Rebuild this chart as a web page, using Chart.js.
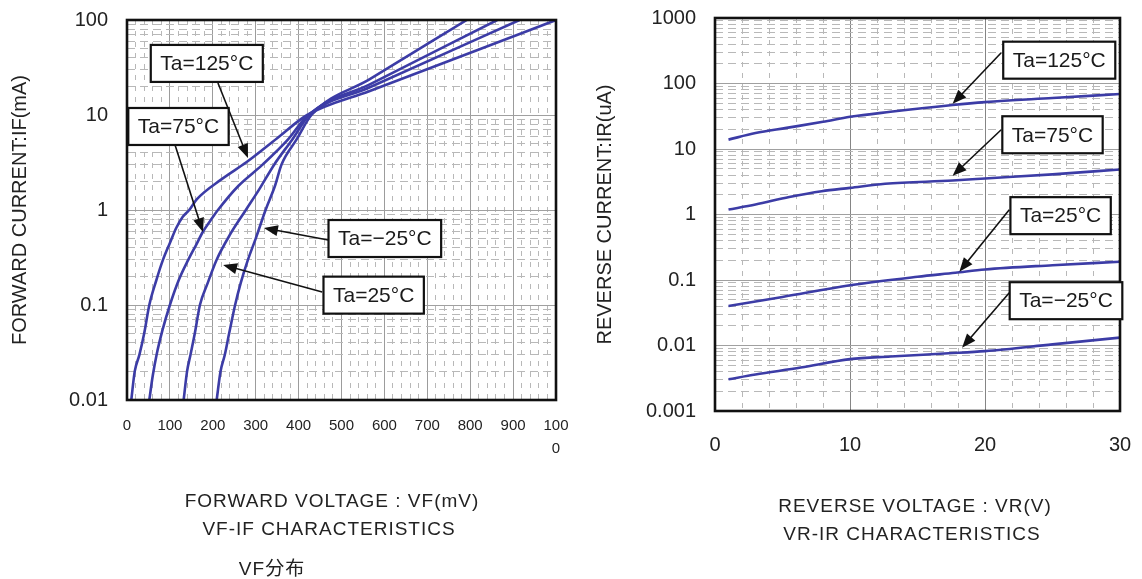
<!DOCTYPE html>
<html>
<head>
<meta charset="utf-8">
<script src="https://cdn.jsdelivr.net/npm/chart.js@4.4.0/dist/chart.umd.min.js"></script>
<style>
html,body{margin:0;padding:0;background:#fff;}
#wrap{position:relative;width:1142px;height:579px;overflow:hidden;background:#fff;}
canvas{position:absolute;top:0;}
.t{position:absolute;font-family:"Liberation Sans","Noto Sans CJK JP",sans-serif;color:#222;white-space:nowrap;transform:translate(-50%,-50%);font-size:19px;letter-spacing:1px;line-height:1;}
</style>
</head>
<body>
<div id="wrap">
  <canvas id="c1" width="580" height="579" style="left:0"></canvas>
  <canvas id="c2" width="552" height="579" style="left:590px"></canvas>
  <div class="t" style="left:332px;top:500px">FORWARD VOLTAGE : VF(mV)</div>
  <div class="t" style="left:329px;top:528px">VF-IF CHARACTERISTICS</div>
  <div class="t" style="left:272px;top:568px">VF分布</div>
  <div class="t" style="left:915px;top:505px">REVERSE VOLTAGE : VR(V)</div>
  <div class="t" style="left:912px;top:533px">VR-IR CHARACTERISTICS</div>
</div>
<script>
// ---------- VF-IF data (mV, mA) ----------
const vf125 = [10, 18, 29, 40, 52, 68, 84, 100, 115, 130, 145, 163, 220, 279, 350, 420, 566, 750, 1000];
const if125 = [0.01, 0.02, 0.03, 0.05, 0.1, 0.18, 0.3, 0.45, 0.65, 0.85, 1.0, 1.3, 2.1, 3.2, 5.7, 10, 17.9, 37, 100];
const vf75 = [52, 60, 69, 83, 100, 120, 143, 160, 177, 195, 212, 260, 316, 375, 422, 566, 915];
const if75 = [0.01, 0.018, 0.03, 0.055, 0.1, 0.18, 0.3, 0.42, 0.59, 0.78, 1.0, 1.8, 3.0, 5.5, 10, 19.6, 100];
const vf25 = [132, 140, 148, 158, 170, 188, 209, 240, 277, 310, 343, 385, 425, 566, 863];
const if25 = [0.01, 0.02, 0.03, 0.05, 0.1, 0.17, 0.3, 0.55, 1.0, 1.7, 3.0, 5.5, 10, 21, 100];
const vfM25 = [209, 218, 228, 238, 252, 265, 282, 300, 323, 345, 360, 395, 430, 566, 792];
const ifM25 = [0.01, 0.02, 0.03, 0.05, 0.1, 0.17, 0.3, 0.5, 1.0, 1.8, 3.0, 5.5, 10, 23.8, 100];

const vfTickValues = [0, 100, 200, 300, 400, 500, 600, 700, 800, 900, 1000];
const vfTickLabels = ['0', '100', '200', '300', '400', '500', '600', '700', '800', '900', ['100', '0']];
const ifTickValues = [0.01, 0.1, 1, 10, 100];
const ifTickLabels = ['0.01', '0.1', '1', '10', '100'];

// ---------- VR-IR data (V, uA) ----------
const vr125 = [1, 3, 5.3, 8, 10, 13, 17.6, 20, 25, 30];
const ir125 = [13.9, 17.5, 21, 26, 31, 37, 47, 52, 60, 69];
const vr75 = [1, 3, 5.5, 7.9, 10, 12.6, 17.6, 20, 25, 30];
const ir75 = [1.19, 1.42, 1.85, 2.27, 2.55, 2.94, 3.3, 3.55, 4.1, 4.86];
const vr25 = [1, 5, 10, 15, 17.8, 20, 25, 30];
const ir25 = [0.04, 0.055, 0.083, 0.112, 0.129, 0.145, 0.168, 0.19];
const vrM25 = [1, 3, 6.35, 10, 13, 17.3, 20, 25, 30];
const irM25 = [0.00305, 0.0036, 0.0046, 0.0062, 0.0068, 0.0076, 0.0082, 0.0104, 0.0132];

const vrTickValues = [0, 10, 20, 30];
const vrTickLabels = ['0', '10', '20', '30'];
const irTickValues = [0.001, 0.01, 0.1, 1, 10, 100, 1000];
const irTickLabels = ['0.001', '0.01', '0.1', '1', '10', '100', '1000'];

// ---------- helpers ----------
const FONT = '"Liberation Sans", "Noto Sans CJK JP", sans-serif';
Chart.defaults.font.family = FONT;
Chart.defaults.color = '#222';
const LINE = '#3c3ca6';

const zip = (xs, ys) => xs.map((x, i) => ({x: x, y: ys[i]}));
const near = (a, b) => Math.abs(a - b) <= Math.abs(b) * 1e-6 + 1e-12;
const isDecade = v => { const l = Math.log10(v); return Math.abs(l - Math.round(l)) < 1e-6; };
function logTicks(e0, e1) {
  const t = [];
  for (let e = e0; e < e1; e++) for (let m = 1; m < 10; m++) t.push({value: Number((m * Math.pow(10, e)).toPrecision(10))});
  t.push({value: Number(Math.pow(10, e1).toPrecision(10))});
  return t;
}
function linTicks(a, b, s) { const t = []; for (let v = a; v <= b + 1e-9; v += s) t.push({value: Number(v.toFixed(6))}); return t; }
function labelFrom(values, labels) {
  return v => { const i = values.findIndex(t => near(v, t)); return i >= 0 ? labels[i] : ''; };
}

const frame = {
  id: 'frame',
  afterDatasetsDraw(chart) {
    const {ctx, chartArea: a} = chart;
    ctx.save();
    ctx.strokeStyle = '#111';
    ctx.lineWidth = 2.6;
    ctx.strokeRect(a.left, a.top, a.right - a.left, a.bottom - a.top);
    ctx.restore();
  }
};

const callouts = {
  id: 'callouts',
  afterDraw(chart, args, opts) {
    const xs = chart.scales.x, ys = chart.scales.y, ctx = chart.ctx;
    ctx.save();
    ctx.font = opts.font;
    ctx.fillStyle = '#111';
    ctx.strokeStyle = '#111';
    for (const it of opts.items) {
      const ax = xs.getPixelForValue(it.from[0]), ay = ys.getPixelForValue(it.from[1]);
      const tx = xs.getPixelForValue(it.tip[0]), ty = ys.getPixelForValue(it.tip[1]);
      const ang = Math.atan2(ty - ay, tx - ax), c = Math.cos(ang), s = Math.sin(ang);
      const hl = 14, hw = 5.5;
      ctx.lineWidth = 1.6;
      ctx.beginPath(); ctx.moveTo(ax, ay); ctx.lineTo(tx - hl * 0.7 * c, ty - hl * 0.7 * s); ctx.stroke();
      ctx.beginPath();
      ctx.moveTo(tx, ty);
      ctx.lineTo(tx - hl * c + hw * s, ty - hl * s - hw * c);
      ctx.lineTo(tx - hl * c - hw * s, ty - hl * s + hw * c);
      ctx.closePath(); ctx.fill();
    }
    for (const it of opts.items) {
      const cx = xs.getPixelForValue(it.box[0]), cy = ys.getPixelForValue(it.box[1]);
      const w = ctx.measureText(it.text).width + opts.padX * 2, h = opts.boxH;
      ctx.fillStyle = '#fff';
      ctx.fillRect(cx - w / 2, cy - h / 2, w, h);
      ctx.lineWidth = 2.2;
      ctx.strokeRect(cx - w / 2, cy - h / 2, w, h);
      ctx.fillStyle = '#1a1a1a';
      ctx.textAlign = 'center';
      ctx.textBaseline = 'middle';
      ctx.fillText(it.text, cx, cy + 1);
    }
    ctx.restore();
  }
};

function ds(xs, ys) {
  return {data: zip(xs, ys), showLine: true, pointRadius: 0, borderColor: LINE, borderWidth: 2.6,
          cubicInterpolationMode: 'monotone', fill: false};
}

const CLEAR = 'rgba(0,0,0,0)';

function makeChart(id, cfg) {
  return new Chart(document.getElementById(id), {
    type: 'scatter',
    data: {datasets: cfg.datasets},
    plugins: [frame, callouts],
    options: {
      responsive: false,
      animation: false,
      events: [],
      layout: {padding: cfg.padding},
      plugins: {
        legend: {display: false},
        tooltip: {enabled: false},
        callouts: {font: '21px ' + FONT, padX: 9.5, boxH: 37, items: cfg.callouts}
      },
      scales: {
        x: {
          type: 'linear', min: cfg.xMin, max: cfg.xMax,
          afterBuildTicks: s => { s.ticks = linTicks(cfg.xMin, cfg.xMax, cfg.xStep); },
          afterFit: s => { s.height = cfg.xHeight; },
          ticks: {autoSkip: false, maxRotation: 0, minRotation: 0, padding: 0,
                  font: {size: cfg.xFont, lineHeight: cfg.xLH}, color: '#222',
                  callback: labelFrom(cfg.xTickValues, cfg.xTickLabels)},
          grid: {drawTicks: true, tickLength: cfg.xPad, tickColor: CLEAR,
                 color: c => (c.tick && cfg.xMajor(c.tick.value)) ? cfg.xMajorColor : '#b8b8b8',
                 lineWidth: 1},
          border: {display: false, dash: c => (c.tick && !cfg.xMajor(c.tick.value)) ? [5, 6] : []}
        },
        y: {
          type: 'logarithmic', min: cfg.yMin, max: cfg.yMax,
          afterBuildTicks: s => { s.ticks = logTicks(cfg.yE0, cfg.yE1); },
          afterFit: s => { s.width = cfg.yWidth; },
          ticks: {autoSkip: false, padding: 0, font: {size: 20}, color: '#222',
                  callback: labelFrom(cfg.yTickValues, cfg.yTickLabels)},
          grid: {drawTicks: true, tickLength: 19, tickColor: CLEAR,
                 color: c => (c.tick && isDecade(c.tick.value)) ? '#a0a0a0' : '#b8b8b8',
                 lineWidth: 1},
          border: {display: false, dash: c => (c.tick && !isDecade(c.tick.value)) ? [8, 5] : []},
          title: {display: true, text: cfg.yTitle, font: {size: 20}, color: '#222', padding: {top: cfg.yTitlePad, bottom: 0}}
        }
      }
    }
  });
}

makeChart('c1', {
  datasets: [ds(vf125, if125), ds(vf75, if75), ds(vf25, if25), ds(vfM25, ifM25)],
  padding: {top: 20, right: 24, left: 0, bottom: 0},
  xMin: 0, xMax: 1000, xStep: 20, xHeight: 179, xPad: 15, xFont: 15, xLH: 1.5,
  xMajor: v => near(v % 100, 0) || near(v % 100, 100), xMajorColor: '#9c9c9c',
  xTickValues: vfTickValues, xTickLabels: vfTickLabels,
  yMin: 0.01, yMax: 100, yE0: -2, yE1: 2, yWidth: 127,
  yTickValues: ifTickValues, yTickLabels: ifTickLabels,
  yTitle: 'FORWARD CURRENT:IF(mA)', yTitlePad: 8,
  callouts: [
    {text: 'Ta=125°C', box: [186, 34.9], from: [212, 21.7], tip: [282, 3.52]},
    {text: 'Ta=75°C', box: [120, 7.57], from: [112, 4.83], tip: [177, 0.586]},
    {text: 'Ta=−25°C', box: [601, 0.501], from: [469, 0.483], tip: [319, 0.647]},
    {text: 'Ta=25°C', box: [575, 0.127], from: [455, 0.137], tip: [224, 0.264]}
  ]
});

makeChart('c2', {
  datasets: [ds(vr125, ir125), ds(vr75, ir75), ds(vr25, ir25), ds(vrM25, irM25)],
  padding: {top: 18, right: 22, left: 0, bottom: 0},
  xMin: 0, xMax: 30, xStep: 2, xHeight: 168, xPad: 22, xFont: 20, xLH: 1.2,
  xMajor: v => near(v % 10, 0), xMajorColor: '#858585',
  xTickValues: vrTickValues, xTickLabels: vrTickLabels,
  yMin: 0.001, yMax: 1000, yE0: -3, yE1: 3, yWidth: 125,
  yTickValues: irTickValues, yTickLabels: irTickLabels,
  yTitle: 'REVERSE CURRENT:IR(uA)', yTitlePad: 3,
  callouts: [
    {text: 'Ta=125°C', box: [25.5, 227], from: [21.2, 295], tip: [17.6, 49]},
    {text: 'Ta=75°C', box: [25.0, 16.5], from: [21.2, 19.7], tip: [17.6, 3.9]},
    {text: 'Ta=25°C', box: [25.6, 0.96], from: [21.8, 1.18], tip: [18.1, 0.134]},
    {text: 'Ta=−25°C', box: [26.0, 0.0483], from: [21.8, 0.064], tip: [18.3, 0.00925]}
  ]
});
</script>
</body>
</html>
